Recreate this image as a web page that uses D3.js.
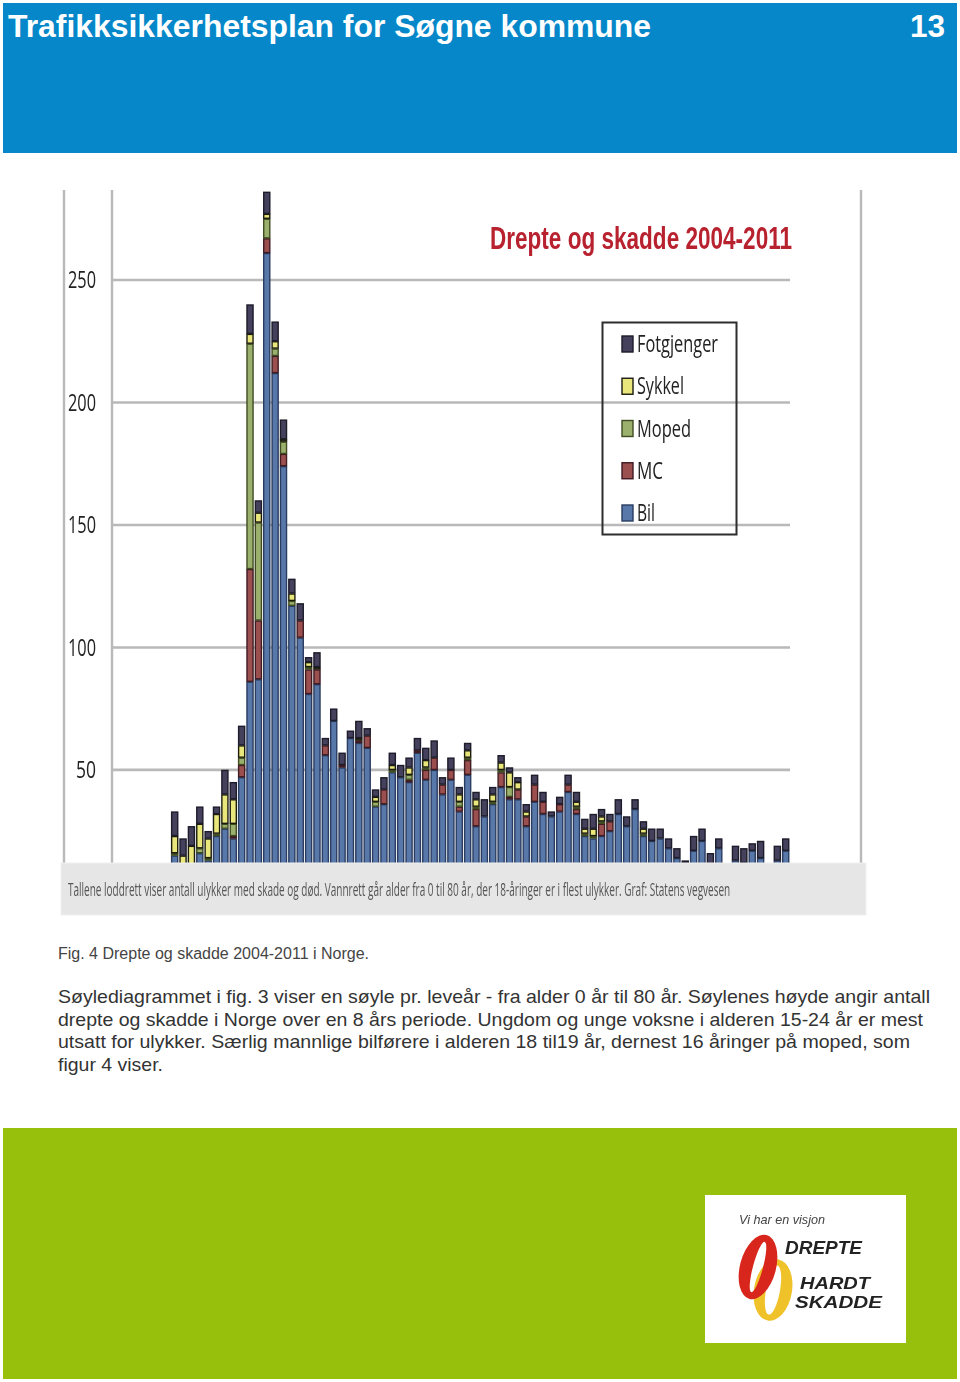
<!DOCTYPE html>
<html lang="no">
<head>
<meta charset="utf-8">
<title>Trafikksikkerhetsplan for Søgne kommune</title>
<script src="https://d3js.org/d3.v7.min.js"></script>
<style>
html,body{margin:0;padding:0;background:#fff}
svg{display:block}
.page{font-family:"Liberation Sans",Arial,sans-serif}
.cond{font-family:"Open Sans",sans-serif}
</style>
</head>
<body>
<svg id="chart" class="page" width="960" height="1382" viewBox="0 0 960 1382"></svg>
<script>
// ---------- data ----------
const ages = [0,1,2,3,4,5,6,7,8,9,10,11,12,13,14,15,16,17,18,19,20,21,22,23,24,25,26,27,28,29,30,31,32,33,34,35,36,37,
  38,39,40,41,42,43,44,45,46,47,48,49,50,51,52,53,54,55,56,57,58,59,60,61,62,63,64,65,66,67,68,69,70,71,72,73];
const bil = [15,11,7,16,13,23,26,22,47,86,87,261,212,174,117,104,81,85,56,70,51,63,61,59,35,36,49,47,45,57,46,50,40,46,33,48,27,31,
  36,43,38,38,27,37,32,31,33,41,32,23,22,23,25,32,27,34,23,21,22,18,14,12,17,21,10,18,8,13,12,17,14,6,13,17];
const mc = [0,0,0,0,0,0,0,1,5,46,24,6,7,5,0,7,10,6,4,0,1,0,1,5,0,6,0,0,1,1,4,5,4,4,2,6,7,0,
  0,6,1,4,4,7,5,0,3,3,2,0,0,5,4,0,0,0,0,0,0,0,0,0,0,0,0,0,0,0,0,0,0,0,0,0];
const moped = [1,0,0,2,1,1,2,5,3,92,40,8,3,5,2,0,1,0,0,0,0,0,0,0,2,0,1,0,2,0,1,0,0,0,2,1,1,0,
  1,1,4,0,0,0,0,0,0,0,1,1,1,1,0,0,0,0,1,0,0,0,0,0,0,0,0,0,0,0,0,0,0,0,0,0];
const sykkel = [7,4,12,10,8,8,12,10,5,4,4,2,3,1,3,0,2,1,0,0,0,0,1,0,2,0,2,0,3,0,3,0,0,0,3,3,3,0,
  3,3,6,3,2,0,0,0,0,0,2,2,3,2,0,0,0,0,2,0,0,0,0,0,0,0,0,0,0,0,0,0,0,0,0,0];
const fotgjenger = [10,7,8,7,3,3,10,7,8,12,5,9,8,8,6,7,2,6,3,5,5,3,7,3,3,5,5,5,4,5,5,7,3,5,3,3,3,7,
  3,3,2,2,3,4,4,2,3,4,4,4,6,3,3,6,4,4,3,5,4,4,4,1,6,5,6,4,0,6,6,3,7,0,6,5];

const seriesNames = ["Bil","MC","Moped","Sykkel","Fotgjenger"];
const seriesValues = {Bil:bil,MC:mc,Moped:moped,Sykkel:sykkel,Fotgjenger:fotgjenger};
const legendOrder = ["Fotgjenger","Sykkel","Moped","MC","Bil"];
const legendWidths = [81,47,54,26,18];
const fillColors = ["#5878aa","#9c5050","#9cb06e","#e9e67c","#45415c"];
const strokeColors = ["#2a3c60","#3f1c22","#3f4c22","#1c1c10","#1c1b2a"];
const yTicks = [50,100,150,200,250];

const titleText = "Trafikksikkerhetsplan for Søgne kommune";
const pageNumber = "13";
const chartTitle = "Drepte og skadde 2004-2011";
const sourceNote = "Tallene loddrett viser antall ulykker med skade og død. Vannrett går alder fra 0 til 80 år, der 18-åringer er i flest ulykker. Graf: Statens vegvesen";
const figCaption = "Fig. 4 Drepte og skadde 2004-2011 i Norge.";
const bodyLines = [
  ["Søylediagrammet i fig. 3 viser en søyle pr. leveår - fra alder 0 år til 80 år. Søylenes høyde angir antall",872],
  ["drepte og skadde i Norge over en 8 års periode. Ungdom og unge voksne i alderen 15-24 år er mest",865],
  ["utsatt for ulykker. Særlig mannlige bilførere i alderen 18 til19 år, dernest 16 åringer på moped, som",852],
  ["figur 4 viser.",105]
];

// ---------- page ----------
const svg = d3.select("#chart");
const defs = svg.append("defs");
defs.append("filter").attr("id","soft").attr("x","-5%").attr("y","-5%").attr("width","110%").attr("height","110%")
  .append("feGaussianBlur").attr("stdDeviation",0.65);
defs.append("filter").attr("id","softer").attr("x","-5%").attr("y","-5%").attr("width","110%").attr("height","110%")
  .append("feGaussianBlur").attr("stdDeviation",0.5);

svg.append("rect").attr("x",3).attr("y",3).attr("width",954).attr("height",150).attr("fill","#0587c9");
svg.append("rect").attr("x",3).attr("y",1128).attr("width",954).attr("height",251).attr("fill","#96c00c");
svg.append("text").attr("x",8).attr("y",37).attr("font-size",31.5).attr("font-weight","bold").attr("fill","#fff")
  .attr("textLength",643).attr("lengthAdjust","spacingAndGlyphs").text(titleText);
svg.append("text").attr("x",945).attr("y",37).attr("text-anchor","end").attr("font-size",31.5).attr("font-weight","bold").attr("fill","#fff").text(pageNumber);

// ---------- chart ----------
const x = d3.scaleBand().domain(ages).range([170.5,789.9]).paddingInner(0.13).paddingOuter(0.065);
const y = d3.scaleLinear().domain([0,250]).range([892.4,280]);

const g = svg.append("g").attr("filter","url(#soft)");
g.selectAll("line.v").data([64,112,861]).join("line").attr("class","v")
  .attr("x1",d=>d).attr("x2",d=>d).attr("y1",190).attr("y2",866)
  .attr("stroke","#b9b9b9").attr("stroke-width",2.4);
g.selectAll("line.grid").data(yTicks).join("line").attr("class","grid")
  .attr("x1",112).attr("x2",790).attr("y1",d=>y(d)).attr("y2",d=>y(d))
  .attr("stroke","#b9b9b9").attr("stroke-width",2.6);

const table = ages.map((a,i)=>{
  const o={age:a};
  seriesNames.forEach(n=>o[n]=seriesValues[n][i]);
  return o;
});
const stacked = d3.stack().keys(seriesNames)(table);
g.selectAll("g.layer").data(stacked).join("g").attr("class","layer")
  .attr("fill",(d,i)=>fillColors[i]).attr("stroke",(d,i)=>strokeColors[i]).attr("stroke-width",1.4)
  .selectAll("rect").data(d=>d.filter(s=>s[1]>s[0])).join("rect")
  .attr("x",d=>x(d.data.age)+0.6).attr("width",x.bandwidth()-1.2)
  .attr("y",d=>y(d[1])+0.5).attr("height",d=>Math.max(0.5,y(d[0])-y(d[1])-1));

// y axis
const axis = d3.axisLeft(y).tickValues(yTicks).tickSize(0).tickPadding(0);
const axisG = g.append("g").attr("transform","translate(96,0)").call(axis);
axisG.select(".domain").remove();
axisG.selectAll("text").attr("class","cond").attr("font-family","'Open Sans',sans-serif").attr("font-size",24).attr("fill","#222")
  .attr("textLength",d=>d<100?20:28).attr("lengthAdjust","spacingAndGlyphs");

// chart title
g.append("text").attr("x",490).attr("y",249).attr("font-size",32).attr("font-weight","bold").attr("fill","#b8212f")
  .attr("textLength",302).attr("lengthAdjust","spacingAndGlyphs").text(chartTitle);

// legend
g.append("rect").attr("x",602.5).attr("y",322.5).attr("width",134).attr("height",212)
  .attr("fill","none").attr("stroke","#2d2d2d").attr("stroke-width",2);
const ly = d3.scalePoint().domain(legendOrder).range([344,513]);
const colorOf = d3.scaleOrdinal().domain(seriesNames).range(fillColors);
const strokeOf = d3.scaleOrdinal().domain(seriesNames).range(strokeColors);
const leg = g.selectAll("g.leg").data(legendOrder).join("g").attr("class","leg")
  .attr("transform",d=>`translate(622,${ly(d)})`);
leg.append("rect").attr("x",0).attr("y",-8).attr("width",11).attr("height",16)
  .attr("fill",d=>colorOf(d)).attr("stroke",d=>strokeOf(d)).attr("stroke-width",1.4);
leg.append("text").attr("x",15).attr("y",8).attr("class","cond").attr("font-size",23).attr("fill","#222")
  .attr("textLength",(d,i)=>legendWidths[i]).attr("lengthAdjust","spacingAndGlyphs").text(d=>d);

// grey note strip covering the foot of the bars
g.append("rect").attr("x",61).attr("y",863).attr("width",805).attr("height",52).attr("fill","#e6e6e6").attr("stroke","#f0f0f0");
const note = g.append("text").attr("class","cond").attr("font-size",18).attr("fill","#555").text(sourceNote);
const noteScale = 663 / note.node().getComputedTextLength();
note.attr("transform",`translate(68,896) scale(${noteScale},1)`);

// ---------- text ----------
svg.append("text").attr("x",58).attr("y",959).attr("font-size",16).attr("fill","#444")
  .attr("textLength",311).attr("lengthAdjust","spacingAndGlyphs").text(figCaption);
const lineY = d3.scalePoint().domain(d3.range(bodyLines.length)).range([1003,1071]);
svg.selectAll("text.body").data(bodyLines).join("text").attr("class","body")
  .attr("x",58).attr("y",(d,i)=>lineY(i)).attr("font-size",19).attr("fill","#333")
  .attr("textLength",d=>d[1]).attr("lengthAdjust","spacingAndGlyphs").text(d=>d[0]);

// ---------- logo ----------
const logo = svg.append("g").attr("filter","url(#softer)");
logo.append("rect").attr("x",705).attr("y",1195).attr("width",201).attr("height",148).attr("fill","#fff");
function ring(cx,cy,rx,ry,ix,iy,rot,color){
  const p=`M${-rx},0A${rx},${ry} 0 1 0 ${rx},0A${rx},${ry} 0 1 0 ${-rx},0Z M${-ix},0A${ix},${iy} 0 1 0 ${ix},0A${ix},${iy} 0 1 0 ${-ix},0Z`;
  logo.append("path").attr("d",p).attr("fill-rule","evenodd").attr("fill",color)
    .attr("transform",`translate(${cx},${cy}) rotate(${rot})`);
}
ring(773,1290,19,31,7,25,10,"#f0c22c");
ring(758,1267,18,33,5,26,15,"#d9261c");
const logoText = [["Vi har en visjon",739,1224,13,"normal","#444",86],["DREPTE",785,1254,18,"bold","#222",77],
  ["HARDT",800,1289,17,"bold","#222",70],["SKADDE",795,1308,17,"bold","#222",87]];
logo.selectAll("text").data(logoText).join("text")
  .attr("x",d=>d[1]).attr("y",d=>d[2]).attr("font-size",d=>d[3]).attr("font-weight",d=>d[4]).attr("font-style","italic")
  .attr("fill",d=>d[5]).attr("textLength",d=>d[6]).attr("lengthAdjust","spacingAndGlyphs").text(d=>d[0]);
</script>
</body>
</html>
